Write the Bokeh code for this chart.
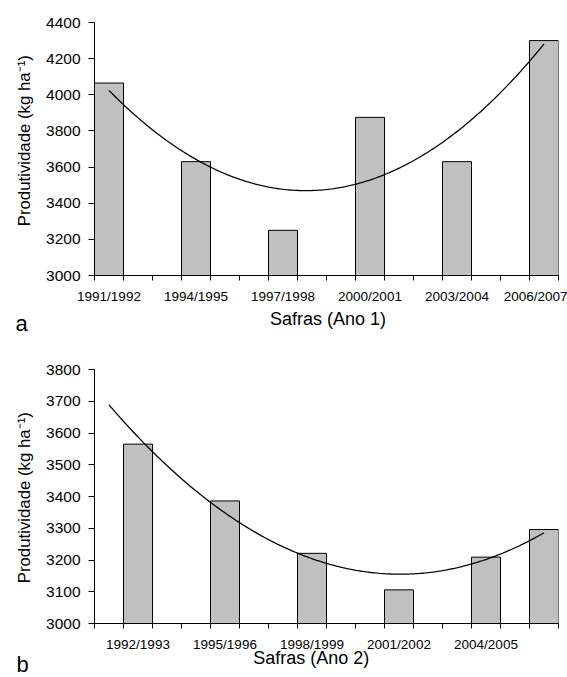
import numpy as np
from bokeh.plotting import figure
from bokeh.models import Range1d, FixedTicker, SingleIntervalTicker, Title
from bokeh.layouts import column
from bokeh.embed import file_html
from bokeh.resources import INLINE

# --- data -------------------------------------------------------------
safras = ["1991/1992", "1992/1993", "1993/1994", "1994/1995", "1995/1996",
          "1996/1997", "1997/1998", "1998/1999", "1999/2000", "2000/2001",
          "2001/2002", "2002/2003", "2003/2004", "2004/2005", "2005/2006",
          "2006/2007"]

safras_ano1 = ["1991/1992", "1994/1995", "1997/1998", "2000/2001", "2003/2004", "2006/2007"]
prod_ano1 = [4065, 3630, 3250, 3875, 3630, 4300]
ticklabels_ano1 = ["1991/1992", "1994/1995", "1997/1998", "2000/2001", "2003/2004", "2006/2007"]

safras_ano2 = ["1992/1993", "1995/1996", "1998/1999", "2001/2002", "2004/2005", "2006/2007"]
prod_ano2 = [3565, 3386, 3221, 3106, 3209, 3296]
ticklabels_ano2 = ["1992/1993", "1995/1996", "1998/1999", "2001/2002", "2004/2005"]

FONT = "Liberation Sans"
YLABEL = "Produtividade  (kg ha\u207b\u00b9)"
W = 567
LEFT = 94
FW = 464


def title(text, size, align="left", valign="bottom", offset=0, standoff=0):
    return Title(text=text, align=align, vertical_align=valign, offset=offset,
                 standoff=standoff, text_font=FONT, text_font_size=size,
                 text_font_style="normal", text_color="black")


def make_panel(safra_list, prod, ticklabels, ymax, ystep, top, fh, bottom, ylab_offset):
    xs = [safras.index(s) for s in safra_list]
    p = figure(frame_width=FW, frame_height=fh,
               min_border_left=LEFT, min_border_right=W - LEFT - FW,
               min_border_top=top, min_border_bottom=bottom,
               x_range=Range1d(-0.5, len(safras) - 0.5),
               y_range=Range1d(3000, ymax),
               output_backend="svg", toolbar_location=None)
    p.xgrid.visible = False
    p.ygrid.visible = False
    p.outline_line_color = None
    p.background_fill_color = "white"

    p.vbar(x=xs, top=prod, bottom=3000, width=1.0,
           fill_color="#C0C0C0", line_color="black", line_width=1)

    coef = np.polyfit(xs, prod, 2)
    xt = np.linspace(0, len(safras) - 1, 200)
    p.line(xt, np.polyval(coef, xt), line_color="black", line_width=1.3)

    # x axis: labels under selected seasons, small ticks between categories
    tick_pos = [safras.index(s) for s in ticklabels]
    bounds = [i - 0.5 for i in range(len(safras) + 1)]
    p.xaxis.ticker = FixedTicker(ticks=tick_pos, minor_ticks=bounds)
    p.xaxis.major_label_overrides = {t: l for t, l in zip(tick_pos, ticklabels)}
    p.xaxis.major_tick_out = 0
    p.xaxis.major_tick_in = 0
    p.xaxis.minor_tick_out = 5
    p.xaxis.minor_tick_in = 0
    p.xaxis.minor_tick_line_color = "black"
    p.xaxis.major_label_standoff = 8
    p.xaxis.major_label_text_font = FONT
    p.xaxis.major_label_text_font_size = "13.5px"
    p.xaxis.major_label_text_color = "black"
    p.xaxis.axis_line_color = "black"

    # y axis
    p.yaxis.ticker = SingleIntervalTicker(interval=ystep, num_minor_ticks=0)
    p.yaxis.major_tick_out = 6
    p.yaxis.major_tick_in = 0
    p.yaxis.minor_tick_out = 0
    p.yaxis.minor_tick_in = 0
    p.yaxis.major_label_standoff = 8
    p.yaxis.major_label_text_font = FONT
    p.yaxis.major_label_text_font_size = "15.5px"
    p.yaxis.major_label_text_color = "black"
    p.yaxis.axis_line_color = "black"

    p.add_layout(title(YLABEL, "16.8px", align="right", valign="top",
                       offset=ylab_offset, standoff=15), "left")
    return p


# top panel: only the axis below the frame
p1 = make_panel(safras_ano1, prod_ano1, ticklabels_ano1, 4400, 200,
                top=22, fh=253, bottom=34, ylab_offset=28)

# bottom panel; the caption of panel (a) sits in its top border
p2 = make_panel(safras_ano2, prod_ano2, ticklabels_ano2, 3800, 100,
                top=60, fh=254, bottom=54, ylab_offset=38)
# stacked upward from the frame: blank spacer, "a", "Safras (Ano 1)"
p2.add_layout(title(" ", "18px", standoff=24.2), "above")
p2.add_layout(title("a", "22px", align="left", valign="bottom",
                    offset=-79, standoff=-24), "above")
p2.add_layout(title("Safras (Ano 1)", "18px", align="left", valign="bottom",
                    offset=175.5, standoff=-17.4), "above")

# stacked downward under the axis
p2.add_layout(title("Safras (Ano 2)", "18px", align="left", valign="top",
                    offset=158.7, standoff=-12.6), "below")
p2.add_layout(title("b", "22px", align="left", valign="top",
                    offset=-78, standoff=-24), "below")

layout = column(p1, p2, spacing=0)
open("out.html", "w").write(file_html(layout, INLINE))
